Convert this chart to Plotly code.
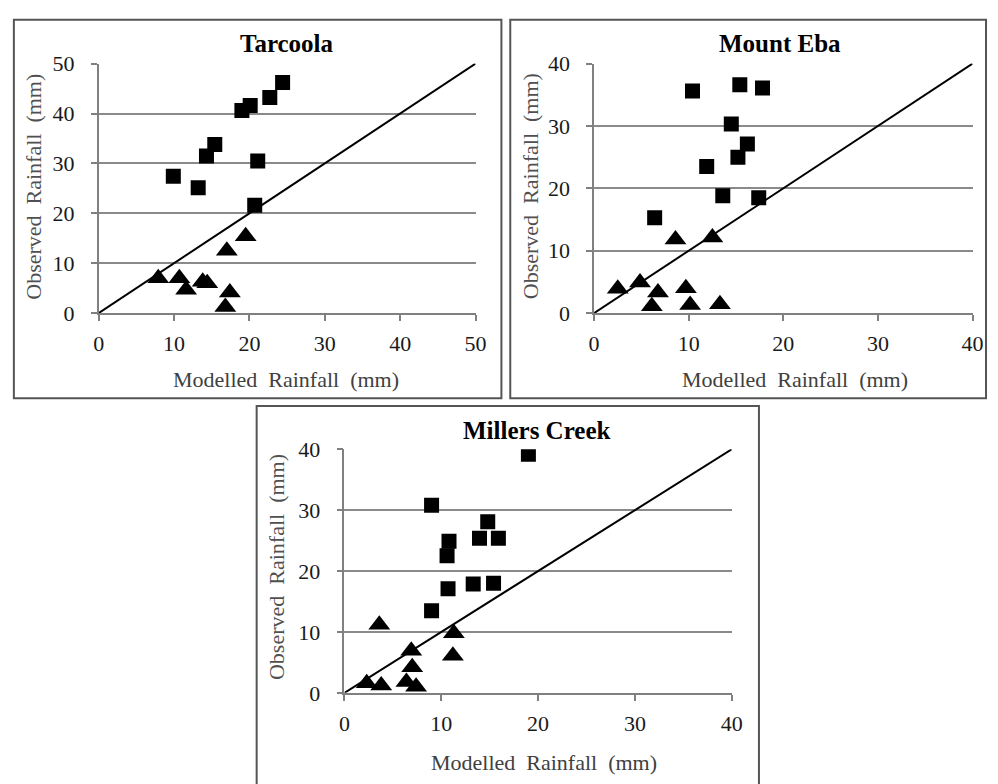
import plotly.graph_objects as go

# ---------------- data ----------------
tar_sq_x = [9.9, 13.2, 14.3, 15.4, 19.0, 20.1, 22.7, 24.4, 21.1, 20.7]
tar_sq_y = [27.4, 25.1, 31.5, 33.8, 40.6, 41.6, 43.2, 46.2, 30.5, 21.6]
tar_tr_x = [7.9, 10.7, 11.6, 13.8, 14.4, 17.0, 19.5, 17.4, 16.8]
tar_tr_y = [7.0, 7.0, 4.7, 6.3, 6.0, 12.5, 15.4, 4.1, 1.2]

eba_sq_x = [10.4, 15.4, 17.8, 14.5, 16.2, 15.2, 11.9, 13.6, 17.4, 6.4]
eba_sq_y = [35.6, 36.6, 36.1, 30.3, 27.1, 25.0, 23.5, 18.8, 18.5, 15.3]
eba_tr_x = [8.6, 12.5, 2.5, 4.85, 6.75, 6.1, 9.7, 10.15, 13.3]
eba_tr_y = [11.8, 12.1, 3.9, 4.9, 3.3, 1.1, 4.0, 1.3, 1.4]

mil_sq_x = [9.0, 10.8, 10.6, 10.7, 9.0, 13.3, 15.4, 13.95, 14.8, 15.9, 19.0]
mil_sq_y = [30.8, 24.9, 22.5, 17.1, 13.5, 17.9, 18.0, 25.4, 28.1, 25.4, 39.2]
mil_tr_x = [3.6, 11.3, 11.2, 6.9, 7.0, 6.4, 7.4, 2.3, 3.8]
mil_tr_y = [11.2, 9.8, 6.1, 6.9, 4.2, 1.8, 1.0, 1.6, 1.2]

titles = ["Tarcoola", "Mount Eba", "Millers Creek"]
axis_max = [50, 40, 40]
x_title = "Modelled\u00a0 Rainfall\u00a0 (mm)"
y_title = "Observed\u00a0 Rainfall\u00a0 (mm)"

panels = [
    (tar_sq_x, tar_sq_y, tar_tr_x, tar_tr_y),
    (eba_sq_x, eba_sq_y, eba_tr_x, eba_tr_y),
    (mil_sq_x, mil_sq_y, mil_tr_x, mil_tr_y),
]

# ---------------- layout geometry (pixels) ----------------
W, H = 998, 784
plot_px = [  # left, right, top, bottom
    (94.3, 477.7, 53.3, 311.0),
    (598.3, 983.3, 53.3, 311.0),
    (344.3, 738.3, 451.7, 703.3),
]
border_px = [
    (8, 504, 8, 399),
    (513, 997, 8, 399),
    (255, 766, 407, 820),
]
title_px = [(286, 33), (787, 33), (540, 432)]
xt_px = [(285, 380), (803, 380), (547, 775)]
yt_px = [(28, 181), (533, 180), (275, 573)]

FONT = "Liberation Serif"

def px(x):
    return x / W

def py(y):
    return 1 - y / H

fig = go.Figure()
layout = dict(
    width=W, height=H, margin=dict(l=0, r=0, t=0, b=0),
    paper_bgcolor="white", plot_bgcolor="white", showlegend=False,
    font=dict(family=FONT, color="#1a1a1a", size=22),
)
annotations = []
shapes = []

for i, (sx, sy, tx, ty) in enumerate(panels):
    n = "" if i == 0 else str(i + 1)
    xa, ya = "x" + n, "y" + n
    m = axis_max[i]
    fig.add_trace(go.Scatter(x=[0, m], y=[0, m], mode="lines",
                             line=dict(color="black", width=2),
                             xaxis=xa, yaxis=ya, hoverinfo="skip"))
    fig.add_trace(go.Scatter(x=sx, y=sy, mode="markers",
                             marker=dict(symbol="square", size=15, color="black"),
                             xaxis=xa, yaxis=ya))
    fig.add_trace(go.Scatter(x=tx, y=ty, mode="markers",
                             marker=dict(symbol="triangle-up", size=19, color="black"),
                             xaxis=xa, yaxis=ya))
    l, r, t, b = plot_px[i]
    common = dict(showgrid=False, zeroline=False, showline=True, linecolor="#808080",
                  linewidth=1.5, ticks="outside", ticklen=6, tickcolor="#808080",
                  tickwidth=1.5, tickfont=dict(family=FONT, size=22, color="#1a1a1a"),
                  dtick=10, fixedrange=True)
    layout["xaxis" + n] = dict(common, domain=[px(l), px(r)], range=[0, m],
                               anchor=ya, ticklabelstandoff=4)
    layout["yaxis" + n] = dict(common, domain=[py(b), py(t)], range=[0, m],
                               anchor=xa, showgrid=True, gridcolor="#8a8a8a",
                               gridwidth=1.5, ticklabelstandoff=12)
    # texts
    tx_, ty_ = title_px[i]
    annotations.append(dict(text="<b>" + titles[i] + "</b>", x=px(tx_), y=py(ty_),
                            xref="paper", yref="paper", showarrow=False,
                            xanchor="center", yanchor="middle",
                            font=dict(family=FONT, size=25, color="black")))
    ax_, ay_ = xt_px[i]
    annotations.append(dict(text=x_title, x=px(ax_), y=py(ay_), xref="paper", yref="paper",
                            showarrow=False, xanchor="center", yanchor="middle",
                            font=dict(family=FONT, size=22, color="#404040")))
    bx_, by_ = yt_px[i]
    annotations.append(dict(text=y_title, x=px(bx_), y=py(by_), xref="paper", yref="paper",
                            showarrow=False, xanchor="center", yanchor="middle", textangle=-90,
                            font=dict(family=FONT, size=22, color="#505050")))
    bl, br, bt, bb = border_px[i]
    shapes.append(dict(type="rect", xref="paper", yref="paper",
                       x0=px(bl), x1=px(br), y0=py(bb), y1=py(bt),
                       line=dict(color="#555555", width=2), fillcolor="rgba(0,0,0,0)"))

layout["annotations"] = annotations
layout["shapes"] = shapes
fig.update_layout(**layout)
fig.write_html("out.html")
